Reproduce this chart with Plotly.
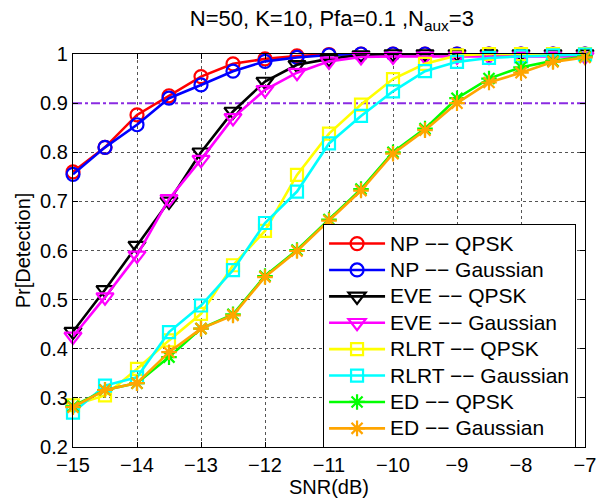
import plotly.graph_objects as go

snr = [-15, -14.5, -14, -13.5, -13, -12.5, -12, -11.5, -11, -10.5, -10, -9.5, -9, -8.5, -8, -7.5, -7]

np_qpsk = [0.76, 0.81, 0.876, 0.915, 0.954, 0.98, 0.99, 0.996, 0.999, 1.0, 1.0, 1.0, 1.0, 1.0, 1.0, 1.0, 1.0]
np_gauss = [0.755, 0.81, 0.856, 0.91, 0.937, 0.965, 0.985, 0.993, 0.998, 1.0, 1.0, 1.0, 1.0, 1.0, 1.0, 1.0, 1.0]
eve_qpsk = [0.435, 0.52, 0.61, 0.70, 0.80, 0.883, 0.944, 0.978, 0.99, 0.998, 1.0, 1.0, 1.0, 1.0, 1.0, 1.0, 1.0]
eve_gauss = [0.425, 0.505, 0.59, 0.705, 0.785, 0.87, 0.927, 0.962, 0.985, 0.994, 0.995, 0.995, 0.995, 0.995, 0.995, 0.995, 0.995]
rlrt_qpsk = [0.285, 0.305, 0.359, 0.417, 0.471, 0.57, 0.64, 0.754, 0.838, 0.897, 0.949, 0.98, 0.997, 1.0, 1.0, 1.0, 1.0]
rlrt_gauss = [0.27, 0.325, 0.342, 0.434, 0.488, 0.56, 0.656, 0.72, 0.818, 0.874, 0.924, 0.965, 0.984, 0.992, 0.995, 0.997, 0.999]
ed_qpsk = [0.283, 0.316, 0.33, 0.383, 0.441, 0.47, 0.548, 0.601, 0.663, 0.725, 0.80, 0.848, 0.91, 0.95, 0.973, 0.986, 0.995]
ed_gauss = [0.281, 0.316, 0.33, 0.393, 0.441, 0.468, 0.546, 0.599, 0.661, 0.722, 0.797, 0.845, 0.90, 0.942, 0.962, 0.984, 0.993]

threshold = 0.9

legend_names = ["NP \u2212\u2212 QPSK", "NP \u2212\u2212 Gaussian", "EVE \u2212\u2212 QPSK",
                "EVE \u2212\u2212 Gaussian", "RLRT \u2212\u2212 QPSK", "RLRT \u2212\u2212 Gaussian",
                "ED \u2212\u2212 QPSK", "ED \u2212\u2212 Gaussian"]
values = [np_qpsk, np_gauss, eve_qpsk, eve_gauss, rlrt_qpsk, rlrt_gauss, ed_qpsk, ed_gauss]
colors = ["#FF0000", "#0000FF", "#000000", "#FF00FF", "#FFFF00", "#00FFFF", "#00FF00", "#FFA500"]
symbols = ["circle-open", "circle-open", "triangle-down-open", "triangle-down-open",
           "square-open", "square-open", "asterisk-open", "asterisk-open"]
sizes = [13, 13, 15, 15, 12, 12, 13, 13]

fig = go.Figure()

fig.add_trace(go.Scatter(
    x=[snr[0], snr[-1]], y=[threshold, threshold], mode="lines",
    line=dict(color="#8A2BE2", width=2, dash="dashdot"), showlegend=False,
    hoverinfo="skip"))

for name, vals, color, sym, size in zip(legend_names, values, colors, symbols, sizes):
    fig.add_trace(go.Scatter(
        x=snr, y=vals, mode="lines+markers",
        name='<span style="font-size:21px">' + name + '</span>',
        line=dict(color=color, width=2.6),
        marker=dict(symbol=sym, size=size, color=color, line=dict(color=color, width=2.2)),
        cliponaxis=False))

font_family = "Liberation Sans, Arial, sans-serif"

x_ticks = [-15, -14, -13, -12, -11, -10, -9, -8, -7]
y_ticks = [0.2, 0.3, 0.4, 0.5, 0.6, 0.7, 0.8, 0.9, 1.0]
y_ticktext = ["0.2", "0.3", "0.4", "0.5", "0.6", "0.7", "0.8", "0.9", "1"]

fig.update_layout(
    width=599, height=499,
    margin=dict(l=73, r=14, t=54, b=52),
    paper_bgcolor="white", plot_bgcolor="white",
    font=dict(family=font_family, size=20, color="black"),
    title=dict(text="N=50, K=10, Pfa=0.1 ,N<sub>aux</sub>=3", x=0.554, xanchor="center",
               y=0.978, yanchor="top", font=dict(size=22)),
    showlegend=True,
    legend=dict(x=0.488, y=0.567, xanchor="left", yanchor="top",
                bgcolor="white", bordercolor="black", borderwidth=1.2,
                font=dict(size=18), tracegroupgap=0, itemwidth=56),
)

fig.update_xaxes(
    range=[-15, -7], tickvals=x_ticks, ticks="inside", ticklen=5, tickcolor="black",
    showline=True, linecolor="black", linewidth=1.2, mirror="ticks",
    showgrid=True, gridcolor="#555555", griddash="dot", gridwidth=1,
    zeroline=False, automargin=False,
    title=dict(text="SNR(dB)", standoff=4, font=dict(size=20)),
    tickfont=dict(size=20))

fig.update_yaxes(
    range=[0.2, 1.0], tickvals=y_ticks, ticktext=y_ticktext, ticks="inside", ticklen=5,
    tickcolor="black",
    showline=True, linecolor="black", linewidth=1.2, mirror="ticks",
    showgrid=True, gridcolor="#555555", griddash="dot", gridwidth=1,
    zeroline=False, automargin=False,
    title=dict(text="Pr[Detection]", standoff=4, font=dict(size=20)),
    tickfont=dict(size=20))

fig.write_html("out.html")
